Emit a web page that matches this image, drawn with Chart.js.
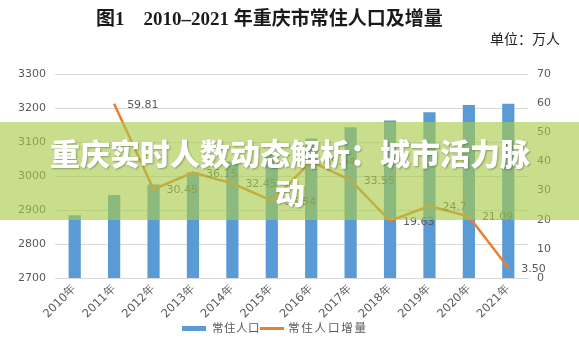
<!DOCTYPE html>
<html>
<head>
<meta charset="utf-8">
<script src="https://cdn.jsdelivr.net/npm/chart.js@4"></script>
<style>
  html, body { margin: 0; padding: 0; background: #fff; }
  #wrap { position: relative; width: 579px; height: 343px; overflow: hidden; }
  #c { position: absolute; left: 0; top: 0; }
  .title { position: absolute; left: 96px; top: 3px; font-size: 19px; font-weight: bold; color: #1a1a1a;
           font-family: "Liberation Serif", "Noto Sans CJK SC", serif; white-space: nowrap; }
  .unit { position: absolute; left: 490px; top: 28px; font-size: 14px; color: #222;
          font-family: "Noto Sans CJK SC", sans-serif; white-space: nowrap; }
  .legend { position: absolute; top: 319px; left: 182px; height: 18px; font-family: "Noto Sans CJK SC", serif;
            font-size: 11.5px; color: #595959; white-space: nowrap; }
  .band { position: absolute; left: 0; top: 122px; width: 579px; height: 98px; background: rgba(168,203,74,0.63); }
  .bandtext { position: absolute; left: 45px; top: 133px; width: 490px; text-align: center; color: #fff;
              font-family: "Noto Sans CJK SC", sans-serif; font-weight: 900; font-size: 30px; line-height: 39px;
              text-shadow: 1px 1px 2px rgba(0,0,0,0.3); }
</style>
</head>
<body>
<div id="wrap">
  <canvas id="c" width="579" height="343"></canvas>
  <div class="title">图1&nbsp;&nbsp;&nbsp;&nbsp;2010–2021 年重庆市常住人口及增量</div>
  <div class="unit">单位：万人</div>
  <div class="legend" id="legend"></div>
  <div class="band"></div>
  <div class="bandtext">重庆实时人数动态解析：城市活力脉动</div>
</div>
<script>
const categories = ["2010年","2011年","2012年","2013年","2014年","2015年","2016年","2017年","2018年","2019年","2020年","2021年"];
const population = [2884.62, 2944.43, 2974.88, 3011.03, 3043.48, 3070.02, 3109.96, 3143.51, 3163.14, 3187.84, 3208.93, 3212.43];
const increment = [null, 59.81, 30.45, 36.15, 32.45, 26.54, 39.94, 33.55, 19.63, 24.7, 21.09, 3.50];
const incrementLabels = ["", "59.81", "30.45", "36.15", "32.45", "26.54", "39.94", "33.55", "19.63", "24.7", "21.09", "3.50"];
const seriesNames = ["常住人口", "常住人口增量"];

const BLUE = "#5B9BD5", ORANGE = "#ED7D31", TICK = "#595959", GRID = "#d9d9d9";
const tickFont = { family: "DejaVu Sans", size: 11 };

// HTML legend
const lg = document.getElementById("legend");
lg.innerHTML =
  '<span style="position:absolute;left:0;top:7px;width:24px;height:5px;background:' + BLUE + '"></span>' +
  '<span style="position:absolute;left:30px;top:0;letter-spacing:0.5px">' + seriesNames[0] + '</span>' +
  '<span style="position:absolute;left:78px;top:8px;width:24px;height:2.5px;background:' + ORANGE + '"></span>' +
  '<span style="position:absolute;left:106px;top:0;letter-spacing:1.8px">' + seriesNames[1] + '</span>';

const labelPlugin = {
  id: "lineLabels",
  afterDatasetsDraw(chart) {
    const meta = chart.getDatasetMeta(1);
    const ctx = chart.ctx;
    ctx.save();
    ctx.font = "11px 'DejaVu Sans'";
    ctx.fillStyle = TICK;
    ctx.textAlign = "left";
    ctx.textBaseline = "middle";
    meta.data.forEach((pt, i) => {
      if (increment[i] == null) return;
      ctx.fillText(incrementLabels[i], pt.x + 13, pt.y + 1);
    });
    ctx.restore();
  }
};

new Chart(document.getElementById("c"), {
  data: {
    labels: categories,
    datasets: [
      { type: "bar", label: seriesNames[0], data: population, backgroundColor: BLUE, yAxisID: "y",
        barPercentage: 0.31, categoryPercentage: 1, order: 2 },
      { type: "line", label: seriesNames[1], data: increment, borderColor: ORANGE, borderWidth: 2.5,
        pointRadius: 0, tension: 0, yAxisID: "y1", order: 1, spanGaps: false }
    ]
  },
  options: {
    responsive: false,
    animation: false,
    layout: { padding: { left: 0, right: 0, top: 74, bottom: 0 } },
    plugins: { legend: { display: false }, tooltip: { enabled: false }, title: { display: false } },
    scales: {
      x: {
        offset: true,
        grid: { display: false, drawTicks: false },
        border: { display: true, color: GRID },
        ticks: { color: TICK, font: { family: "DejaVu Sans", size: 11.5 }, maxRotation: 45, minRotation: 45, padding: 4, autoSkip: false },
        afterFit(s) { s.height = 65; }
      },
      y: {
        position: "left", min: 2700, max: 3300,
        ticks: { stepSize: 100, color: TICK, font: tickFont, padding: 9, callback: v => String(v) },
        grid: { color: GRID, drawTicks: false, lineWidth: 1 },
        border: { display: false },
        afterFit(s) { s.width = 55; }
      },
      y1: {
        position: "right", min: 0, max: 70,
        ticks: { stepSize: 10, color: TICK, font: tickFont, padding: 9, callback: v => String(v) },
        grid: { display: false, drawTicks: false },
        border: { display: false },
        afterFit(s) { s.width = 51; }
      }
    }
  },
  plugins: [labelPlugin]
});
</script>
</body>
</html>
